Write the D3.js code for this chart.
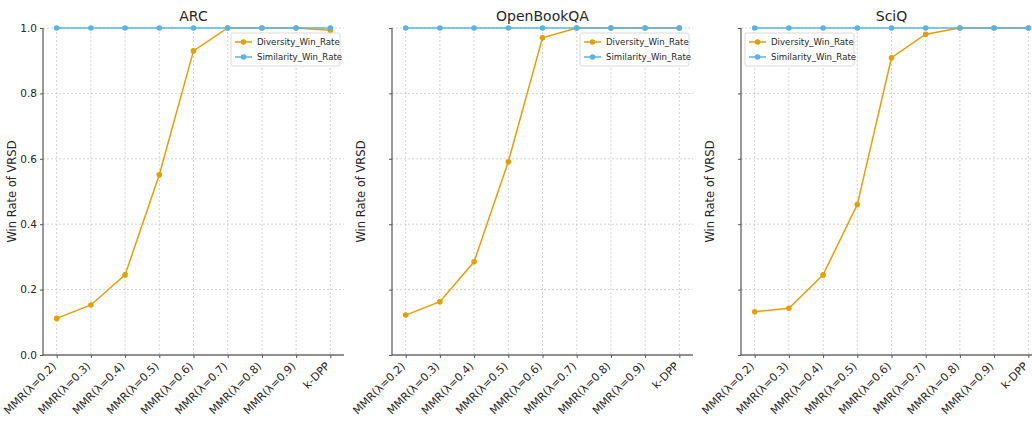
<!DOCTYPE html>
<html>
<head>
<meta charset="utf-8">
<script src="https://cdn.jsdelivr.net/npm/d3@7"></script>
<style>
body { margin: 0; background: #fff; }
text { font-family: "DejaVu Sans", sans-serif; fill: #262626; }
</style>
</head>
<body>
<script>
// categories and values
var categories = ["MMR(λ=0.2)", "MMR(λ=0.3)", "MMR(λ=0.4)", "MMR(λ=0.5)", "MMR(λ=0.6)", "MMR(λ=0.7)", "MMR(λ=0.8)", "MMR(λ=0.9)", "k-DPP"];
var titles = ["ARC", "OpenBookQA", "SciQ"];
var arcDiversity = [0.112, 0.153, 0.245, 0.551, 0.93, 1.0, 1.0, 1.0, 0.993];
var obqaDiversity = [0.122, 0.163, 0.285, 0.591, 0.97, 1.0, 1.0, 1.0, 1.0];
var sciqDiversity = [0.132, 0.143, 0.245, 0.46, 0.909, 0.981, 1.0, 1.0, 1.0];
var similarity = [1, 1, 1, 1, 1, 1, 1, 1, 1];
var yTicks = [0.0, 0.2, 0.4, 0.6, 0.8, 1.0];

var diversity = [arcDiversity, obqaDiversity, sciqDiversity];
var legendPos = ["right", "right", "left"];

var svg = d3.select("body").append("svg").attr("width", 1032).attr("height", 421);

var panelLeft = [43, 392, 741];
var panelW = 301, plotTop = 28, plotBottom = 355;
var orange = "#E69F00", blue = "#56B4E9";

for (var p = 0; p < 3; p++) {
    var g = svg.append("g");
    var x = d3.scaleLinear().domain([-0.4, categories.length - 1 + 0.4]).range([panelLeft[p], panelLeft[p] + panelW]);
    var y = d3.scaleLinear().domain([0, 1]).range([plotBottom, plotTop]);

    // grid
    g.selectAll(".gx").data(categories).enter().append("line")
        .attr("x1", function(d, i) { return x(i); }).attr("x2", function(d, i) { return x(i); })
        .attr("y1", plotTop).attr("y2", plotBottom)
        .attr("stroke", "#c8c8c8").attr("stroke-width", 0.8).attr("stroke-dasharray", "2,2");
    g.selectAll(".gy").data(yTicks.slice(1)).enter().append("line")
        .attr("x1", panelLeft[p]).attr("x2", panelLeft[p] + panelW)
        .attr("y1", function(d) { return y(d); }).attr("y2", function(d) { return y(d); })
        .attr("stroke", "#c8c8c8").attr("stroke-width", 0.8).attr("stroke-dasharray", "2,2");

    // y axis
    var yAxis = d3.axisLeft(y).tickValues(yTicks).tickSize(3).tickPadding(3)
        .tickFormat(p == 0 ? d3.format(".1f") : function() { return ""; });
    var ya = g.append("g").attr("transform", "translate(" + panelLeft[p] + ",0)").call(yAxis);
    ya.select(".domain").attr("d", "M0," + plotBottom + "V" + plotTop).attr("stroke", "#555").attr("stroke-width", 1.2);
    ya.selectAll(".tick line").attr("stroke", "#555");
    ya.selectAll("text").style("font-size", "10.5px").attr("fill", "#262626");

    // x axis
    var xAxis = d3.axisBottom(x).tickValues(d3.range(categories.length)).tickSize(3)
        .tickFormat(function(d) { return categories[d]; });
    var xa = g.append("g").attr("transform", "translate(0," + plotBottom + ")").call(xAxis);
    xa.select(".domain").attr("d", "M" + panelLeft[p] + ",0H" + (panelLeft[p] + panelW)).attr("stroke", "#222").attr("stroke-width", 1.2);
    xa.selectAll(".tick line").attr("stroke", "#555");
    xa.selectAll("text").style("font-size", "11px").attr("fill", "#262626")
        .attr("text-anchor", "end").attr("dy", "0.35em")
        .attr("transform", "translate(-3,9) rotate(-45)").attr("y", 0).attr("x", 0);

    // y label
    g.append("text").attr("transform", "translate(" + (panelLeft[p] - 27) + "," + ((plotTop + plotBottom) / 2) + ") rotate(-90)")
        .attr("text-anchor", "middle").style("font-size", "11.5px").text("Win Rate of VRSD");

    // title
    g.append("text").attr("x", panelLeft[p] + panelW / 2).attr("y", 21)
        .attr("text-anchor", "middle").style("font-size", "14px").text(titles[p]);

    var line = d3.line().x(function(d, i) { return x(i); }).y(function(d) { return y(d); });
    var series = [[diversity[p], orange], [similarity, blue]];
    series.forEach(function(s) {
        g.append("path").datum(s[0]).attr("d", line).attr("fill", "none")
            .attr("stroke", s[1]).attr("stroke-width", 1.5);
        g.selectAll(null).data(s[0]).enter().append("circle")
            .attr("cx", function(d, i) { return x(i); }).attr("cy", function(d) { return y(d); })
            .attr("r", 2.8).attr("fill", s[1]);
    });

    // legend
    var lw = 109, lh = 33;
    var lx = legendPos[p] == "right" ? panelLeft[p] + panelW - lw - 4 : panelLeft[p] + 4;
    var ly = 33;
    var lg = g.append("g").attr("transform", "translate(" + lx + "," + ly + ")");
    lg.append("rect").attr("width", lw).attr("height", lh).attr("rx", 2)
        .attr("fill", "#fff").attr("fill-opacity", 0.85).attr("stroke", "#d0d0d0").attr("stroke-width", 0.8);
    var names = ["Diversity_Win_Rate", "Similarity_Win_Rate"];
    var cols = [orange, blue];
    for (var k = 0; k < 2; k++) {
        var yy = 9 + k * 15;
        lg.append("line").attr("x1", 4).attr("x2", 21).attr("y1", yy).attr("y2", yy)
            .attr("stroke", cols[k]).attr("stroke-width", 1.5);
        lg.append("circle").attr("cx", 12.5).attr("cy", yy).attr("r", 2.8).attr("fill", cols[k]);
        lg.append("text").attr("x", 26).attr("y", yy).attr("dy", "0.35em")
            .style("font-size", "8.6px").text(names[k]);
    }
}
</script>
</body>
</html>
